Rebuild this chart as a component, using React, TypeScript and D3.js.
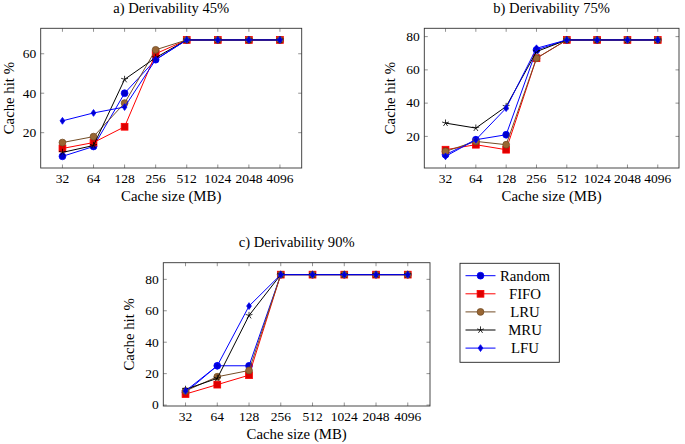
import React from "react";
import * as d3 from "d3";

const categories = ["32", "64", "128", "256", "512", "1024", "2048", "4096"];
const seriesNames = ["Random", "FIFO", "LRU", "MRU", "LFU"];

// a) Derivability 45%
const random45 = [8, 13, 40, 57, 67, 67, 67, 67];
const fifo45 = [12, 15, 23, 60, 67, 67, 67, 67];
const lru45 = [15, 18, 35, 62, 67, 67, 67, 67];
const mru45 = [10, 13.5, 47, 58, 67, 67, 67, 67];
const lfu45 = [26, 30, 33, 57, 67, 67, 67, 67];

// b) Derivability 75%
const random75 = [9, 18, 21, 72, 78, 78, 78, 78];
const fifo75 = [12, 15, 12, 67, 78, 78, 78, 78];
const lru75 = [11, 17, 15, 67, 78, 78, 78, 78];
const mru75 = [28, 25, 38, 71, 78, 78, 78, 78];
const lfu75 = [8, 18, 37, 73, 78, 78, 78, 78];

// c) Derivability 90%
const random90 = [8, 25, 25, 83, 83, 83, 83, 83];
const fifo90 = [7, 13, 19, 83, 83, 83, 83, 83];
const lru90 = [9, 18, 22, 83, 83, 83, 83, 83];
const mru90 = [10, 17, 57, 83, 83, 83, 83, 83];
const lfu90 = [9, 25, 63, 83, 83, 83, 83, 83];

const yTicks45 = [20, 40, 60];
const yTicks75 = [20, 40, 60, 80];
const yTicks90 = [0, 20, 40, 60, 80];

const FONT = "Liberation Serif, DejaVu Serif, serif";

type Style = { stroke: string; fill: string; mark: string };
const styles: Style[] = [
  { stroke: "#0000ff", fill: "#0000cc", mark: "circle" },
  { stroke: "#ff0000", fill: "#dd0000", mark: "square" },
  { stroke: "#734d26", fill: "#996633", mark: "circle" },
  { stroke: "#000000", fill: "#000000", mark: "star" },
  { stroke: "#0000ff", fill: "#0000cc", mark: "diamond" },
];

function Marker({ x, y, s }: { x: number; y: number; s: Style }) {
  if (s.mark === "circle")
    return <circle cx={x} cy={y} r={3.4} fill={s.fill} stroke={s.stroke} strokeWidth={0.8} />;
  if (s.mark === "square")
    return <rect x={x - 3.4} y={y - 3.4} width={6.8} height={6.8} fill={s.fill} stroke={s.stroke} strokeWidth={0.8} />;
  if (s.mark === "diamond") {
    const r = 3.4;
    return (
      <path
        d={`M${x},${y - r}L${x + 0.7 * r},${y}L${x},${y + r}L${x - 0.7 * r},${y}Z`}
        fill={s.fill}
        stroke={s.stroke}
        strokeWidth={0.8}
      />
    );
  }
  const r = 3.6;
  let d = "";
  for (let k = 0; k < 5; k++) {
    const a = -Math.PI / 2 + (k * 2 * Math.PI) / 5;
    d += `M${x},${y}L${x + r * Math.cos(a)},${y + r * Math.sin(a)}`;
  }
  return <path d={d} stroke={s.stroke} strokeWidth={0.8} fill="none" />;
}

type PanelProps = {
  title: string;
  series: number[][];
  yTicks: number[];
  left: number;
  right: number;
  top: number;
  bottom: number;
  ylabelX: number;
};

const tickTxt = { fontFamily: FONT, fontSize: 13.5, fill: "#000" };
const wordTxt = { fontFamily: FONT, fontSize: 14.8, fill: "#000" };

function Panel({ title, series, yTicks, left, right, top, bottom, ylabelX }: PanelProps) {
  const all = series.flat();
  const [mn, mx] = d3.extent(all) as [number, number];
  const pad = 0.1 * (mx - mn);
  const y = d3.scaleLinear().domain([mn - pad, mx + pad]).range([bottom, top]);
  const nx = categories.length - 1;
  const x = d3.scaleLinear().domain([-0.1 * nx, nx * 1.1]).range([left, right]);
  const line = d3
    .line<number>()
    .x((_, i) => x(i))
    .y((d) => y(d));
  const tl = 3.5;
  const cx = (left + right) / 2;
  const cy = (top + bottom) / 2;
  return (
    <g>
      <text x={cx} y={top - 15.8} textAnchor="middle" style={{ ...wordTxt, fontSize: 14.6 }}>
        {title}
      </text>
      {categories.map((c, i) => (
        <g key={c}>
          <line x1={x(i)} x2={x(i)} y1={bottom} y2={bottom - tl} stroke="#777" strokeWidth={0.8} />
          <line x1={x(i)} x2={x(i)} y1={top} y2={top + tl} stroke="#777" strokeWidth={0.8} />
          <text x={x(i)} y={bottom + 15.3} textAnchor="middle" style={tickTxt}>
            {c}
          </text>
        </g>
      ))}
      {yTicks.map((t) => (
        <g key={t}>
          <line x1={left} x2={left + tl} y1={y(t)} y2={y(t)} stroke="#777" strokeWidth={0.8} />
          <line x1={right} x2={right - tl} y1={y(t)} y2={y(t)} stroke="#777" strokeWidth={0.8} />
          <text x={left - 4.5} y={y(t) + 4.3} textAnchor="end" style={tickTxt}>
            {t}
          </text>
        </g>
      ))}
      <text x={cx} y={bottom + 32.8} textAnchor="middle" style={wordTxt}>
        Cache size (MB)
      </text>
      <text
        transform={`translate(${ylabelX},${cy}) rotate(-90)`}
        textAnchor="middle"
        dominantBaseline="central"
        style={wordTxt}
      >
        Cache hit %
      </text>
      {series.map((vals, si) => (
        <g key={si}>
          <path d={line(vals) || ""} fill="none" stroke={styles[si].stroke} strokeWidth={1} />
          {vals.map((v, i) => (
            <Marker key={i} x={x(i)} y={y(v)} s={styles[si]} />
          ))}
        </g>
      ))}
      <rect x={left} y={top} width={right - left} height={bottom - top} fill="none" stroke="#333" strokeWidth={0.9} />
    </g>
  );
}

function Legend({ x0, y0, w, h }: { x0: number; y0: number; w: number; h: number }) {
  const rowH = 18.1;
  return (
    <g>
      <rect x={x0} y={y0} width={w} height={h} fill="white" stroke="#222" strokeWidth={0.9} />
      {seriesNames.map((n, i) => {
        const yy = y0 + 12.4 + i * rowH;
        return (
          <g key={n}>
            <line x1={x0 + 5.5} x2={x0 + 35.5} y1={yy} y2={yy} stroke={styles[i].stroke} strokeWidth={1} />
            <Marker x={x0 + 20.5} y={yy} s={styles[i]} />
            <text x={x0 + 65} y={yy + 4.8} textAnchor="middle" style={wordTxt}>
              {n}
            </text>
          </g>
        );
      })}
    </g>
  );
}

export default function App() {
  return (
    <svg
      width={685}
      height={444}
      style={{ position: "absolute", left: 0, top: 0, display: "block", background: "white" }}
    >
      <Panel
        title="a) Derivability 45%"
        series={[random45, fifo45, lru45, mru45, lfu45]}
        yTicks={yTicks45}
        left={40.7}
        right={301.7}
        top={28.3}
        bottom={168}
        ylabelX={9}
      />
      <Panel
        title="b) Derivability 75%"
        series={[random75, fifo75, lru75, mru75, lfu75]}
        yTicks={yTicks75}
        left={424.3}
        right={679}
        top={28.3}
        bottom={168}
        ylabelX={390}
      />
      <Panel
        title="c) Derivability 90%"
        series={[random90, fifo90, lru90, mru90, lfu90]}
        yTicks={yTicks90}
        left={163.3}
        right={430}
        top={262.7}
        bottom={406}
        ylabelX={128.5}
      />
      <Legend x0={460} y0={263.3} w={99.3} h={99} />
    </svg>
  );
}
